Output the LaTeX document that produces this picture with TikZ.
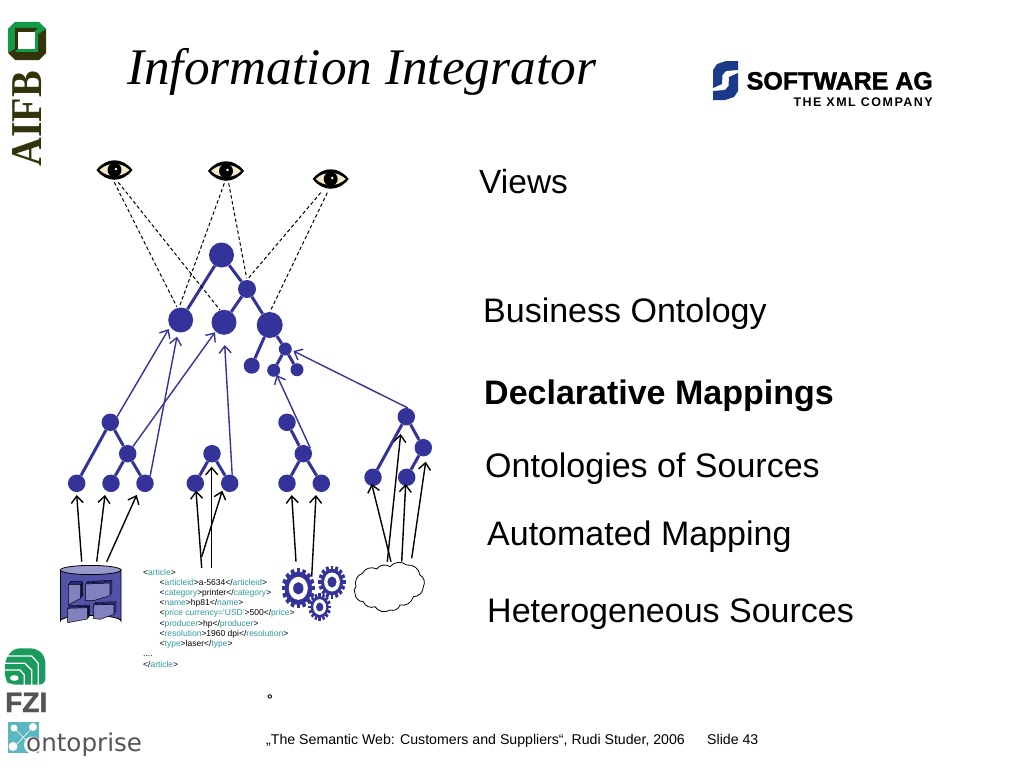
\documentclass[tikz,border=0pt]{standalone}
\usepackage{graphicx}
\usepackage{fontspec}
\setmainfont{Liberation Sans}
\newfontfamily\titlefont{Liberation Serif}
\newfontfamily\wideface[LetterSpace=12]{Liberation Sans}
\newfontfamily\sagface[FakeBold=1.5]{Liberation Sans}
\newfontfamily\dejaface{DejaVu Sans}
\usetikzlibrary{arrows.meta}
\definecolor{ontoblue}{HTML}{33339A}
\definecolor{xmlteal}{HTML}{2E9AA0}
\definecolor{aifbgreen}{HTML}{129A44}
\definecolor{aifbdark}{HTML}{33330C}
\definecolor{fzigreen}{HTML}{1A9A5C}
\definecolor{greytext}{HTML}{555555}
\definecolor{ontoteal}{HTML}{5BB8C0}
\definecolor{sagblue}{HTML}{1B3A8A}
\definecolor{eyecream}{HTML}{F3EBC8}
\newcommand{\fsz}[1]{\fontsize{#1}{#1}\selectfont}
\newcommand{\xt}[1]{{\color{xmlteal}#1}}
\newcommand{\eyeicon}[2]{%
  \begin{scope}[shift={(#1,#2)}]
    \fill[black] (-18,0) .. controls (-8,-13) and (8,-13) .. (18,0) .. controls (8,13) and (-8,13) .. (-18,0) -- cycle;
    \fill[eyecream] (-15,0) .. controls (-7,-8) and (7,-8) .. (15,0) .. controls (7,8) and (-7,8) .. (-15,0) -- cycle;
    \fill[black] (0,0) circle (7);
    \fill[white] (1.5,-1) circle (1.4);
  \end{scope}}
\newcommand{\gearicon}[6]{% x y tooth-radius body-radius white-radius hub-radius
  \begin{scope}[shift={(#1,#2)},xscale=.83]
    \foreach \a in {0,22.5,...,337.5}{
      \fill[ontoblue,rotate=\a] (-1.5*#3/14,#4-1) rectangle (1.5*#3/14,#3);
    }
    \fill[ontoblue] (0,0) circle (#4);
    \fill[white] (0,0) circle (#5);
    \fill[ontoblue] (0,0) circle (#6);
  \end{scope}}
\newcommand{\slab}[1]{%
  \draw[black,line width=.4pt,fill=ontoblue,shift={(6,-8)}] #1 -- cycle;
  \draw[black,line width=.4pt,fill=ontoblue,shift={(3,-4)}] #1 -- cycle;
  \draw[black,line width=.5pt,fill=ontoblue!62!white] #1 -- cycle;}
\tikzset{
  tnode/.style={circle,fill=ontoblue,inner sep=0pt,minimum size=#1},
  edge/.style={draw=ontoblue,line width=3pt},
  map/.style={draw=ontoblue,line width=1.4pt,-{Straight Barb[length=7pt,width=12pt,line width=1.4pt]}},
  auto/.style={draw=black,line width=1.4pt,-{Straight Barb[length=7pt,width=12pt,line width=1.4pt]}},
  view/.style={draw=black,line width=1pt,dash pattern=on 3.5pt off 2.5pt},
  label/.style={anchor=base west,inner sep=0pt,font=\fsz{34},text=black},
  xml/.style={anchor=base west,inner sep=0pt,font=\fsz{8.5},text=black},
  foot/.style={anchor=base west,inner sep=0pt,font=\fsz{14.15},text=black},
}
\begin{document}
\begin{tikzpicture}[x=1pt,y=-1pt]
\useasboundingbox (0,0) rectangle (1024,768);
\fill[white] (0,0) rectangle (1024,768);

% Title and labels
\node[anchor=base west,inner sep=0pt,font=\titlefont\itshape\fsz{51.3}] (title) at (127,84) {Information Integrator};
\node[label,font=\fsz{33.5}] (lviews) at (479,193) {Views};
\node[label] (lbus) at (483,322) {Business Ontology};
\node[label,font=\bfseries\fsz{34}] (ldecl) at (484,404) {Declarative Mappings};
\node[label] (lonto) at (485,477) {Ontologies of Sources};
\node[label] (lauto) at (487,545) {Automated Mapping};
\node[label] (lhet) at (487,622) {Heterogeneous Sources};

% Eyes
\eyeicon{114.5}{170}
\eyeicon{226}{171}
\eyeicon{330.7}{179}
\coordinate (e1a) at (114.3,182.3);
\coordinate (e1b) at (118.3,182.3);
\coordinate (e2a) at (224.3,183.3);
\coordinate (e2b) at (228.7,183.3);
\coordinate (e3a) at (320.7,192.7);
\coordinate (e3b) at (327.3,192.7);

% Business ontology
\node[tnode=25pt] (top) at (221.5,255) {};
\node[tnode=18pt] (mid) at (247,289) {};
\node[tnode=25pt] (bl) at (180.7,320) {};
\node[tnode=25pt] (bm) at (224,322.3) {};
\node[tnode=26pt] (br) at (269.7,325) {};
\node[tnode=13pt] (s0) at (285.3,349) {};
\node[tnode=16pt] (s1) at (251.7,365.7) {};
\node[tnode=13pt] (s2) at (273.7,370.3) {};
\node[tnode=13pt] (s3) at (297,369.7) {};
\draw[edge] (top)--(bl) (top)--(mid) (mid)--(bm) (mid)--(br) (br)--(s0) (br)--(s1) (s0)--(s2) (s0)--(s3);

% Source ontologies
\node[tnode=17.5pt] (t1a) at (110.3,422.3) {};
\node[tnode=17.5pt] (t1b) at (127.7,453.7) {};
\node[tnode=17.5pt] (t1c) at (76.7,483.3) {};
\node[tnode=17.5pt] (t1d) at (111,483.3) {};
\node[tnode=17.5pt] (t1e) at (145,483.3) {};
\draw[edge] (t1a)--(t1c) (t1a)--(t1b) (t1b)--(t1d) (t1b)--(t1e);
\node[tnode=17.5pt] (t2a) at (212,453.7) {};
\node[tnode=17.5pt] (t2b) at (195.3,483.3) {};
\node[tnode=17.5pt] (t2c) at (229.7,483.3) {};
\draw[edge] (t2a)--(t2b) (t2a)--(t2c);
\node[tnode=17.5pt] (t3a) at (287,422.3) {};
\node[tnode=17.5pt] (t3b) at (303.3,453.7) {};
\node[tnode=17.5pt] (t3c) at (287,483.3) {};
\node[tnode=17.5pt] (t3d) at (321.3,483.3) {};
\draw[edge] (t3a)--(t3b) (t3b)--(t3c) (t3b)--(t3d);
\node[tnode=17.5pt] (t4a) at (406.3,416.7) {};
\node[tnode=17.5pt] (t4b) at (423.3,447.7) {};
\node[tnode=17.5pt] (t4c) at (373,477.3) {};
\node[tnode=17.5pt] (t4d) at (406.7,477.3) {};
\draw[edge] (t4a)--(t4c) (t4a)--(t4b) (t4b)--(t4d);

% Dashed views
\coordinate (d1) at (176.7,306.7);
\coordinate (d2) at (220,310);
\coordinate (d3) at (180,305);
\coordinate (d4) at (246.7,278.3);
\coordinate (d5) at (248.3,278.3);
\coordinate (d6) at (270,311.7);
\draw[view] (e1a)--(d1);
\draw[view] (e1b)--(d2);
\draw[view] (e2a)--(d3);
\draw[view] (e2b)--(d4);
\draw[view] (e3a)--(d5);
\draw[view] (e3b)--(d6);

% Declarative mappings
\coordinate (m1) at (168.7,329);
\coordinate (m2) at (177,336.7);
\coordinate (m3) at (215,332.3);
\coordinate (m4) at (224.7,345);
\coordinate (m5) at (276.7,375);
\coordinate (m6) at (293.3,351);
\draw[map] (t1a.40)--(m1);
\draw[map] (t1e.55)--(m2);
\draw[map] (t1b.54)--(m3);
\draw[map] (t2c.74)--(m4);
\draw[map] (t3b.38)--(m5);
\draw[map] (t4a.81)--(m6);

% Database
\begin{scope}
  \draw[black,line width=.8pt,fill=ontoblue!85!white] (60.4,570) -- (60.4,621) arc[start angle=180,end angle=360,x radius=30.3,y radius=5.6] -- (121,570) -- cycle;
  \draw[black,line width=.8pt,fill=ontoblue!50!white] (90.7,570) ellipse[x radius=30.3,y radius=4.6];
\end{scope}
\begin{scope}[shift={(50,555)},x=.3333pt,y=-.3333pt]
  \slab{(55,88)--(92,88)--(92,130)--(55,150)}
  \slab{(107,87)--(180,84)--(180,122)--(130,137)--(107,137)}
  \slab{(53,160)--(112,158)--(112,192)--(53,203)}
  \slab{(130,150)--(192,148)--(192,178)--(150,193)--(130,190)}
\end{scope}

% Article text
\node[xml] (x0) at (143,575) {<\xt{article}>};
\node[xml] (x1) at (159.5,585) {<\xt{articleid}>a-5634</\xt{articleid}>};
\node[xml] (x2) at (159.5,595.3) {<\xt{category}>printer</\xt{category}>};
\node[xml] (x3) at (159.5,605.5) {<\xt{name}>hp81</\xt{name}>};
\node[xml] (x4) at (159.5,615.7) {<\xt{price currency='USD'}>500</\xt{price}>};
\node[xml] (x5) at (159.5,626) {<\xt{producer}>hp</\xt{producer}>};
\node[xml] (x6) at (159.5,636.2) {<\xt{resolution}>1960 dpi</\xt{resolution}>};
\node[xml] (x7) at (159.5,646.5) {<\xt{type}>laser</\xt{type}>};
\node[xml] (x8) at (143,656.7) {....};
\node[xml] (x9) at (143,667) {</\xt{article}>};

% Gears
\gearicon{298.3}{588.3}{20}{16.5}{11.5}{6.2}
\gearicon{332}{582}{16.5}{13.2}{9.5}{5.5}
\gearicon{319.7}{607}{13.7}{10.8}{7.8}{4.4}

% Cloud
\draw[black,line width=.8pt,fill=white]
  (356,586.7) to[bend left=45] (362.3,573.3) to[bend left=45] (376.7,569) to[bend left=45] (390,566.7)
  to[bend left=45] (406.7,565) to[bend left=45] (420,575) to[bend left=45] (423.3,586.7)
  to[bend left=45] (413.3,596.7) to[bend left=45] (400,605) to[bend left=45] (390,610)
  to[bend left=45] (375,606.7) to[bend left=45] (363.3,601.7) to[bend left=45] (355,593.3)
  to[bend left=45] (356,586.7) -- cycle;

% Automated mappings
\coordinate (a1s) at (81.7,561.7);
\coordinate (a1h) at (76.7,495);
\coordinate (a2s) at (96.7,561.7);
\coordinate (a2h) at (105,495);
\coordinate (a3s) at (106.7,561.7);
\coordinate (a3h) at (136.7,495);
\coordinate (a4s) at (201.7,568);
\coordinate (a4h) at (196,490.7);
\coordinate (a5s) at (211.7,568);
\coordinate (a5h) at (211.7,466.7);
\coordinate (a6s) at (201.7,556.7);
\coordinate (a6h) at (222.3,490.7);
\coordinate (a7s) at (296,561.7);
\coordinate (a7h) at (291.7,495);
\coordinate (a8s) at (311.7,576.7);
\coordinate (a8h) at (316,495);
\coordinate (a9s) at (391,561.7);
\coordinate (a9h) at (371.7,484);
\coordinate (a10s) at (387.3,561.7);
\coordinate (a10h) at (400.7,434);
\coordinate (a11s) at (401.7,561.7);
\coordinate (a11h) at (405.7,484);
\coordinate (a12s) at (411.7,558.3);
\coordinate (a12h) at (425.7,461.7);
\foreach \i in {1,...,12}{\draw[auto] (a\i s)--(a\i h);}

% Footer
\node[anchor=base west,inner sep=0pt,font=\bfseries\fsz{14}] (deg) at (267,704) {°};
\node[foot] (footl) at (266,744) {„The Semantic Web: Customers and Suppliers“, Rudi Studer, 2006};
\node[foot] (footr) at (707,744) {Slide 43};

% AIFB logo
\fill[aifbgreen] (15,22) -- (39,22) -- (46,29) -- (8,53) -- (8,29) -- cycle;
\fill[aifbdark] (46,29) -- (46,53) -- (39,60) -- (15,60) -- (8,53) -- cycle;
\fill[aifbdark] (15,28) -- (38,28) -- (15,52) -- cycle;
\fill[aifbgreen] (38,28) -- (38,52) -- (15,52) -- cycle;
\fill[white] (18,32) rectangle (35,49);
\node[anchor=base west,inner sep=0pt,rotate=90,font=\titlefont\bfseries\fsz{40},text=aifbdark] (aifb) at (41.7,167) {\scalebox{1}[1.1]{AIFB}};

% FZI logo
\begin{scope}[shift={(0,640)},x=.3333pt,y=-.3333pt]
  \fill[fzigreen,rounded corners=6pt] (15,60) -- (40,25) -- (110,25) -- (136,50) -- (136,134) -- (30,134) -- (15,120) -- cycle;
  \draw[white,line width=1.3pt] (15,48) -- (95,48) -- (115,70) -- (115,135);
  \draw[white,line width=1.3pt] (15,70) -- (75,70) -- (95,90) -- (95,135);
  \draw[white,line width=1.3pt] (15,90) -- (60,90) -- (73,105) -- (73,135);
  \fill[white,rounded corners=3pt] (30,106) rectangle (56,122);
\end{scope}
\node[anchor=base west,inner sep=0pt,font=\sagface\bfseries\fsz{28},text=greytext] (fzi) at (5,712) {FZI};

% ontoprise logo
\fill[ontoteal] (8,721.7) rectangle (39,752.7);
\fill[white] (14,728) circle (3.5);
\fill[white] (33,727) circle (4);
\fill[white] (13,746.5) circle (4.5);
\draw[white,line width=.6pt] (14,728)--(33,747) (33,727)--(14,747);
\fill[white] (32.5,745) circle (8.5);
\node[anchor=base west,inner sep=0pt,font=\dejaface\fsz{24.6},text=greytext] (ontop) at (26,751) {ontoprise};

% Software AG logo
\fill[sagblue] (738,61) -- (726,61) -- (717,64) -- (713,70) -- (713,88) -- (722,84) -- (722.5,75) -- (726,71) -- (738,70) -- cycle;
\fill[sagblue] (713,100) -- (725,100) -- (734,97) -- (738,91) -- (738,73) -- (729,77) -- (728.5,86) -- (725,90) -- (713,91) -- cycle;
\node[anchor=base east,inner sep=0pt,font=\sagface\bfseries\fsz{25}] (sag) at (933,89.5) {SOFTWARE AG};
\node[anchor=base east,inner sep=0pt,font=\wideface\bfseries\fsz{12.5}] (xmlco) at (933,106.5) {THE XML COMPANY};
\end{tikzpicture}
\end{document}
